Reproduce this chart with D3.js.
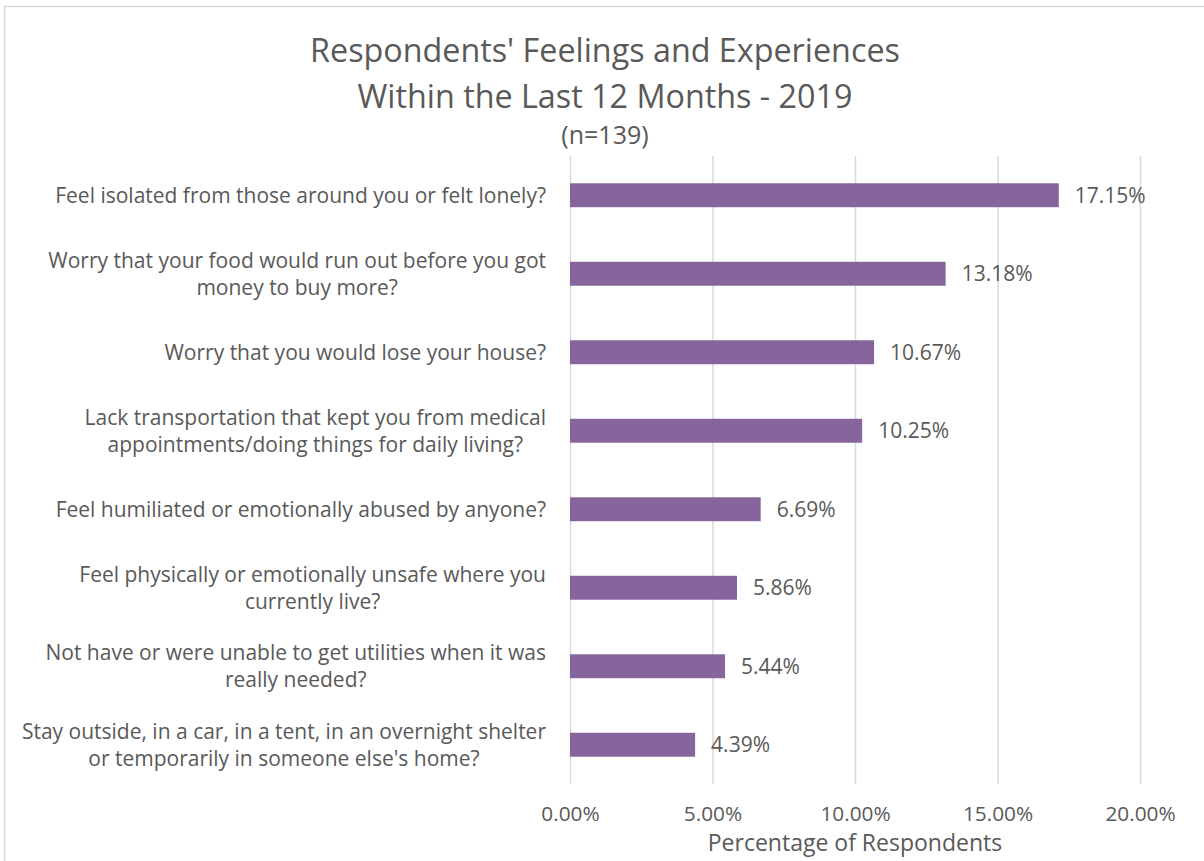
<!DOCTYPE html>
<html>
<head>
<meta charset="utf-8">
<script src="https://cdn.jsdelivr.net/npm/d3@7"></script>
<style>
  html, body { margin: 0; padding: 0; background: #fff; }
  svg { display: block; }
</style>
</head>
<body>
<svg id="chart" width="1204" height="861"></svg>
<script>
// Survey items (top to bottom) and share of respondents answering yes
const categories = [
  ["Feel isolated from those around you or felt lonely?"],
  ["Worry that your food would run out before you got", "money to buy more?"],
  ["Worry that you would lose your house?"],
  ["Lack transportation that kept you from medical", "appointments/doing things for daily living?"],
  ["Feel humiliated or emotionally abused by anyone?"],
  ["Feel physically or emotionally unsafe where you", "currently live?"],
  ["Not have or were unable to get utilities when it was", "really needed?"],
  ["Stay outside, in a car, in a tent, in an overnight shelter", "or temporarily in someone else's home?"]
];
const values = [17.15, 13.18, 10.67, 10.25, 6.69, 5.86, 5.44, 4.39];
const xTicks = [0, 5, 10, 15, 20];
const titleLines = ["Respondents' Feelings and Experiences", "Within the Last 12 Months - 2019"];
const subtitle = "(n=139)";
const xAxisTitle = "Percentage of Respondents";

const FONT = "'Open Sans', Lato, sans-serif";
const TEXT = "#595959";
const BAR = "#85659b";
const GRID = "#d9d9d9";

const svg = d3.select("#chart");
const plot = { left: 570, right: 1140, top: 156, bottom: 784 };

// chart frame
svg.append("rect")
  .attr("x", 4.5).attr("y", 6.5)
  .attr("width", 1300).attr("height", 1000)
  .attr("fill", "#fff").attr("stroke", "#d9d9d9").attr("stroke-width", 1.5);

const x = d3.scaleLinear().domain([0, 20]).range([plot.left, plot.right]);
const keys = categories.map((c, i) => i);
const y = d3.scaleBand().domain(keys).range([plot.top, plot.bottom]).paddingInner(0.695).paddingOuter(0.3475);

// gridlines + tick labels via axis
const xAxis = d3.axisBottom(x).tickValues(xTicks).tickFormat(d => d.toFixed(2) + "%")
  .tickSize(-(plot.bottom - plot.top)).tickPadding(22);
const gx = svg.append("g").attr("transform", `translate(0,${plot.bottom})`).call(xAxis);
gx.select(".domain").remove();
gx.selectAll(".tick line").attr("stroke", GRID).attr("stroke-width", 1.5);
gx.selectAll(".tick text").attr("fill", TEXT).style("font-family", FONT).style("font-size", "20.8px");

// bars
svg.append("g").selectAll("rect").data(values).join("rect")
  .attr("x", x(0))
  .attr("y", (d, i) => y(i))
  .attr("width", d => x(d) - x(0))
  .attr("height", y.bandwidth())
  .attr("fill", BAR);

// value labels
svg.append("g").selectAll("text").data(values).join("text")
  .attr("x", d => x(d) + 16)
  .attr("y", (d, i) => y(i) + y.bandwidth() / 2)
  .attr("dy", "0.35em")
  .attr("fill", TEXT)
  .style("font-family", FONT).style("font-size", "21px")
  .text(d => d.toFixed(2) + "%");

// category labels: lines centred on each other, block right-aligned
const labelRight = 546;
const lineH = 27;
const catG = svg.append("g");
categories.forEach((lines, i) => {
  const cy = y(i) + y.bandwidth() / 2;
  const t = catG.append("text").attr("fill", TEXT)
    .style("font-family", FONT).style("font-size", "21px");
  const n = lines.length;
  lines.forEach((ln, j) => {
    t.append("tspan").attr("y", cy + (j - (n - 1) / 2) * lineH).attr("dy", "0.35em").text(ln);
  });
  const widths = [];
  t.selectAll("tspan").each(function() { widths.push(this.getComputedTextLength()); });
  const maxW = d3.max(widths);
  t.attr("text-anchor", "middle");
  t.selectAll("tspan").attr("x", labelRight - maxW / 2);
});

// titles
svg.append("g").selectAll("text").data(titleLines).join("text")
  .attr("x", 605).attr("y", (d, i) => 62 + i * 46)
  .attr("text-anchor", "middle").attr("fill", TEXT)
  .style("font-family", FONT).style("font-size", "32.3px")
  .text(d => d);
svg.append("text").attr("x", 605).attr("y", 144)
  .attr("text-anchor", "middle").attr("fill", TEXT)
  .style("font-family", FONT).style("font-size", "25px").text(subtitle);

svg.append("text").attr("x", 855).attr("y", 851)
  .attr("text-anchor", "middle").attr("fill", TEXT)
  .style("font-family", FONT).style("font-size", "23px").text(xAxisTitle);
</script>
</body>
</html>
